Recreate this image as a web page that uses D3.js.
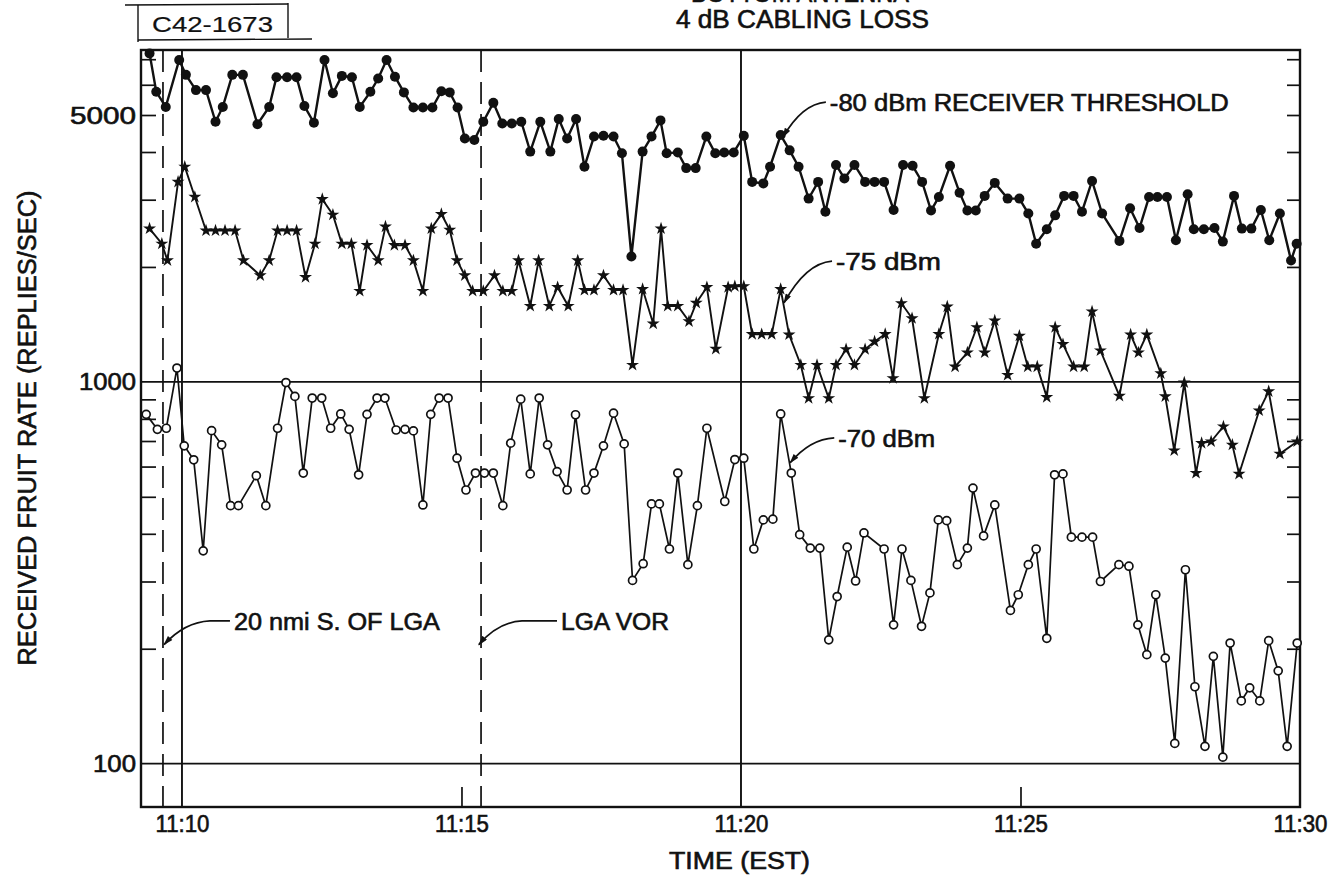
<!DOCTYPE html>
<html>
<head>
<meta charset="utf-8">
<script src="https://cdn.jsdelivr.net/npm/d3@7"></script>
<style>
  body { margin: 0; background: #fff; }
  text { font-family: "Liberation Sans", Arial, sans-serif; fill: #111; stroke: #111; stroke-width: 0.6px; }
</style>
</head>
<body>
<div id="chart"></div>
<script>
// time in minutes after 11:00, rate in replies/sec
var time80 = [9.42, 9.54, 9.71, 9.95, 10.07, 10.25, 10.43, 10.60, 10.73, 10.90,
  11.09, 11.35, 11.56, 11.69, 11.88, 12.05, 12.19, 12.36, 12.55, 12.70,
  12.86, 13.04, 13.18, 13.37, 13.51, 13.66, 13.81, 13.97, 14.14, 14.31,
  14.48, 14.64, 14.79, 14.93, 15.06, 15.23, 15.39, 15.57, 15.73, 15.90,
  16.07, 16.23, 16.41, 16.59, 16.74, 16.89, 17.05, 17.20, 17.37, 17.54,
  17.72, 17.87, 18.04, 18.24, 18.40, 18.56, 18.67, 18.87, 19.02, 19.19,
  19.38, 19.54, 19.70, 19.87, 20.05, 20.20, 20.40, 20.52, 20.71, 20.87,
  21.03, 21.21, 21.38, 21.51, 21.70, 21.85, 22.03, 22.22, 22.39, 22.56,
  22.73, 22.90, 23.07, 23.24, 23.40, 23.54, 23.74, 23.91, 24.05, 24.20,
  24.36, 24.54, 24.77, 24.98, 25.14, 25.28, 25.47, 25.62, 25.78, 25.95,
  26.10, 26.28, 26.46, 26.77, 26.96, 27.13, 27.30, 27.45, 27.62, 27.78,
  27.99, 28.10, 28.28, 28.47, 28.62, 28.82, 28.96, 29.13, 29.30, 29.45,
  29.64, 29.84, 29.94];
var rate80 = [7250, 5750, 5250, 6970, 6370, 5810, 5810, 4800, 5250, 6370,
  6370, 4730, 5250, 6280, 6280, 6280, 5280, 4770, 6970, 5700,
  6330, 6280, 5250, 5750, 6230, 6970, 6300, 5730, 5230, 5230,
  5230, 5770, 5730, 5230, 4340, 4300, 4800, 5380, 4750, 4750,
  4800, 4010, 4800, 4010, 4880, 4340, 4880, 3660, 4390, 4410,
  4390, 3970, 2130, 4010, 4390, 4840, 3970, 3990, 3630, 3630,
  4390, 3970, 3990, 3990, 4410, 3340, 3310, 3660, 4430, 4040,
  3660, 3020, 3340, 2790, 3700, 3410, 3700, 3340, 3340, 3340,
  2820, 3700, 3680, 3340, 2810, 3050, 3680, 3130, 2810, 2810,
  3070, 3320, 3020, 3020, 2760, 2300, 2510, 2730, 3070, 3070,
  2790, 3360, 2760, 2340, 2850, 2530, 3050, 3050, 3050, 2350,
  3100, 2510, 2510, 2530, 2330, 3070, 2520, 2520, 2820, 2350,
  2760, 2080, 2300];

var time75 = [9.42, 9.64, 9.74, 9.93, 10.05, 10.23, 10.43, 10.60, 10.77, 10.95,
  11.10, 11.40, 11.56, 11.71, 11.88, 12.05, 12.21, 12.38, 12.51, 12.70,
  12.86, 13.03, 13.18, 13.31, 13.51, 13.64, 13.80, 13.99, 14.14, 14.31,
  14.46, 14.64, 14.79, 14.92, 15.06, 15.20, 15.39, 15.59, 15.74, 15.90,
  16.02, 16.23, 16.38, 16.57, 16.72, 16.91, 17.08, 17.20, 17.37, 17.54,
  17.72, 17.89, 18.06, 18.24, 18.43, 18.57, 18.69, 18.87, 19.07, 19.20,
  19.39, 19.55, 19.77, 19.89, 20.05, 20.20, 20.37, 20.55, 20.71, 20.86,
  21.07, 21.21, 21.36, 21.57, 21.70, 21.88, 22.03, 22.22, 22.39, 22.58,
  22.72, 22.87, 23.06, 23.28, 23.54, 23.69, 23.83, 24.05, 24.22, 24.36,
  24.54, 24.77, 24.98, 25.13, 25.30, 25.47, 25.62, 25.76, 25.95, 26.14,
  26.28, 26.43, 26.77, 26.97, 27.11, 27.26, 27.51, 27.59, 27.75, 27.93,
  28.14, 28.24, 28.41, 28.63, 28.79, 28.91, 29.27, 29.44, 29.64, 29.95];
var rate75 = [2520, 2300, 2080, 3340, 3660, 3050, 2490, 2490, 2490, 2490,
  2080, 1900, 2080, 2490, 2490, 2490, 1880, 2300, 3010, 2740,
  2300, 2300, 1730, 2280, 2080, 2550, 2280, 2280, 2080, 1730,
  2520, 2750, 2500, 2080, 1900, 1730, 1730, 1900, 1730, 1730,
  2080, 1580, 2080, 1580, 1770, 1580, 2080, 1740, 1740, 1900,
  1740, 1740, 1107, 1750, 1420, 2520, 1580, 1580, 1440, 1610,
  1770, 1220, 1770, 1780, 1780, 1333, 1333, 1333, 1750, 1330,
  1107, 906, 1107, 906, 1107, 1217, 1107, 1217, 1275, 1334,
  1022, 1606, 1467, 906, 1334, 1574, 1096, 1193, 1390, 1193,
  1447, 1042, 1320, 1096, 1096, 912, 1390, 1255, 1096, 1096,
  1528, 1208, 919, 1330, 1193, 1330, 1052, 916, 661, 996,
  577, 691, 698, 764, 684, 574, 841, 944, 648, 698];

var time70 = [9.36, 9.56, 9.72, 9.91, 10.04, 10.21, 10.38, 10.53, 10.71, 10.87,
  11.01, 11.33, 11.50, 11.71, 11.86, 12.02, 12.17, 12.33, 12.50, 12.66,
  12.84, 12.99, 13.16, 13.31, 13.49, 13.63, 13.83, 13.99, 14.14, 14.31,
  14.45, 14.60, 14.76, 14.92, 15.08, 15.25, 15.41, 15.57, 15.74, 15.88,
  16.06, 16.23, 16.39, 16.54, 16.71, 16.89, 17.04, 17.22, 17.37, 17.54,
  17.72, 17.91, 18.06, 18.25, 18.40, 18.54, 18.72, 18.87, 19.05, 19.22,
  19.39, 19.71, 19.89, 20.05, 20.23, 20.40, 20.57, 20.71, 20.90, 21.05,
  21.24, 21.41, 21.57, 21.72, 21.90, 22.05, 22.20, 22.56, 22.73, 22.88,
  23.04, 23.23, 23.38, 23.53, 23.68, 23.87, 24.05, 24.15, 24.34, 24.54,
  24.82, 24.96, 25.14, 25.28, 25.47, 25.61, 25.76, 25.91, 26.10, 26.29,
  26.43, 26.76, 26.94, 27.10, 27.26, 27.42, 27.59, 27.76, 27.95, 28.12,
  28.30, 28.45, 28.62, 28.75, 28.95, 29.10, 29.28, 29.44, 29.61, 29.77,
  29.95];
var rate70 = [822, 751, 756, 1087, 680, 625, 361, 745, 684, 474,
  474, 568, 474, 756, 996, 916, 577, 907, 907, 756,
  824, 751, 571, 822, 907, 907, 748, 751, 744, 476,
  822, 907, 907, 631, 521, 577, 577, 577, 474, 691,
  901, 574, 907, 684, 582, 521, 820, 521, 577, 680,
  828, 688, 302, 334, 479, 479, 365, 577, 332, 474,
  756, 486, 626, 631, 365, 435, 437, 824, 577, 398,
  367, 367, 211, 274, 369, 301, 402, 365, 231, 365,
  302, 229, 280, 435, 433, 332, 367, 527, 395, 476,
  252, 277, 332, 365, 213, 571, 574, 392, 392, 392,
  300, 332, 329, 231, 193, 277, 189, 113, 322, 159,
  111, 191, 104, 207, 146, 158, 146, 210, 175, 111,
  207];

var xTicks = [10, 15, 20, 25, 30];
var xTickLabels = ["11:10", "11:15", "11:20", "11:25", "11:30"];
var yLabelTicks = [100, 1000, 5000];
var yMinorTicks = [200, 300, 400, 500, 600, 700, 800, 900, 2000, 3000, 4000, 5000, 6000, 7000];
var solidTimes = [10, 20];
var dashedTimes = [9.66, 15.35];
var gridRates = [100, 1000];

var W = 1336, H = 878;
var plotL = 141, plotR = 1300, plotT = 50, plotB = 807;
var ink = "#111";

var svg = d3.select("#chart").append("svg")
  .attr("width", W).attr("height", H)
  .style("background", "#fff");

var x = d3.scaleLinear().domain([9.267, 30]).range([plotL, plotR]);
var y = d3.scaleLog().domain([77, 7400]).range([plotB, plotT]);

// reference lines
svg.selectAll(".grid").data(gridRates).enter().append("line")
  .attr("x1", plotL).attr("x2", plotR)
  .attr("y1", d => y(d)).attr("y2", d => y(d))
  .attr("stroke", ink).attr("stroke-width", 1.9);

svg.selectAll(".vsolid").data(solidTimes).enter().append("line")
  .attr("x1", d => x(d)).attr("x2", d => x(d))
  .attr("y1", plotT).attr("y2", plotB)
  .attr("stroke", ink).attr("stroke-width", 1.9);

svg.selectAll(".vdash").data(dashedTimes).enter().append("line")
  .attr("x1", d => x(d)).attr("x2", d => x(d))
  .attr("y1", plotT).attr("y2", plotB)
  .attr("stroke", ink).attr("stroke-width", 1.7)
  .attr("stroke-dasharray", "22,10");

// minor log ticks, inward on both sides
var leftMinor = svg.append("g").attr("transform", "translate(" + plotL + ",0)")
  .call(d3.axisLeft(y).tickValues(yMinorTicks).tickSize(-15).tickFormat(""));
var rightMinor = svg.append("g").attr("transform", "translate(" + plotR + ",0)")
  .call(d3.axisRight(y).tickValues(yMinorTicks).tickSize(-13).tickFormat(""));
[leftMinor, rightMinor].forEach(function(g) {
  g.select(".domain").remove();
  g.selectAll("line").attr("stroke", ink).attr("stroke-width", 1.7);
});

// inward ticks at 11:15 and 11:25
var xInner = svg.append("g").attr("transform", "translate(0," + plotB + ")")
  .call(d3.axisBottom(x).tickValues([15, 25]).tickSize(-20).tickFormat(""));
xInner.select(".domain").remove();
xInner.selectAll("line").attr("stroke", ink).attr("stroke-width", 1.7);

// frame
svg.append("rect")
  .attr("x", plotL).attr("y", plotT)
  .attr("width", plotR - plotL).attr("height", plotB - plotT)
  .attr("fill", "none").attr("stroke", ink).attr("stroke-width", 2.4);

// tick labels
var yLabelWidths = {100: 43, 1000: 57, 5000: 66};
var yAx = svg.append("g").attr("transform", "translate(" + plotL + ",0)")
  .call(d3.axisLeft(y).tickValues(yLabelTicks).tickSize(0).tickPadding(5).tickFormat(d3.format("d")));
yAx.select(".domain").remove();
yAx.selectAll("text")
  .attr("font-size", 23).attr("dy", null).attr("y", 8)
  .attr("fill", ink)
  .attr("font-family", "'Liberation Sans', Arial, sans-serif")
  .attr("textLength", d => yLabelWidths[d]).attr("lengthAdjust", "spacingAndGlyphs");

var xAx = svg.append("g").attr("transform", "translate(0," + plotB + ")")
  .call(d3.axisBottom(x).tickValues(xTicks).tickSize(0).tickPadding(0)
    .tickFormat((d, i) => xTickLabels[i]));
xAx.select(".domain").remove();
xAx.selectAll("text")
  .attr("font-size", 23).attr("dy", null).attr("y", 25)
  .attr("fill", ink)
  .attr("font-family", "'Liberation Sans', Arial, sans-serif")
  .attr("textLength", 54).attr("lengthAdjust", "spacingAndGlyphs");

// series
function pairs(ts, rs) { return ts.map((t, i) => [t, rs[i]]); }
var s80 = pairs(time80, rate80), s75 = pairs(time75, rate75), s70 = pairs(time70, rate70);
var line = d3.line().x(d => x(d[0])).y(d => y(d[1]));

svg.append("path").datum(s70).attr("d", line)
  .attr("fill", "none").attr("stroke", ink).attr("stroke-width", 1.7);
svg.append("path").datum(s75).attr("d", line)
  .attr("fill", "none").attr("stroke", ink).attr("stroke-width", 1.9);
svg.append("path").datum(s80).attr("d", line)
  .attr("fill", "none").attr("stroke", ink).attr("stroke-width", 2.4);

svg.selectAll(".m80").data(s80).enter().append("circle")
  .attr("cx", d => x(d[0])).attr("cy", d => y(d[1])).attr("r", 5)
  .attr("fill", ink);

var star = d3.symbol().type(d3.symbolStar).size(52);
svg.selectAll(".m75").data(s75).enter().append("path")
  .attr("d", star)
  .attr("transform", d => "translate(" + x(d[0]) + "," + y(d[1]) + ")")
  .attr("fill", ink);

svg.selectAll(".m70").data(s70).enter().append("circle")
  .attr("cx", d => x(d[0])).attr("cy", d => y(d[1])).attr("r", 4)
  .attr("fill", "#fff").attr("stroke", ink).attr("stroke-width", 1.7);

// annotations (text anchor and arrow tip in data units)
var notes = [
  {text: "-80 dBm RECEIVER THRESHOLD", t: 21.59, v: 5120, tipT: 20.75, tipV: 4375, len: 399, flat: 0},
  {text: "-75 dBm", t: 21.70, v: 1963, tipT: 20.77, tipV: 1610, len: 105, flat: 0},
  {text: "-70 dBm", t: 21.74, v: 676, tipT: 20.88, tipV: 614, len: 97, flat: 0},
  {text: "20 nmi S. OF LGA", t: 10.93, v: 224, tipT: 9.68, tipV: 205, len: 206, flat: 20},
  {text: "LGA VOR", t: 16.78, v: 224, tipT: 15.31, tipV: 205, len: 108, flat: 35}
];

svg.append("defs").append("marker")
  .attr("id", "head").attr("viewBox", "0 0 10 6")
  .attr("refX", 9).attr("refY", 3)
  .attr("markerWidth", 12).attr("markerHeight", 6)
  .attr("markerUnits", "userSpaceOnUse")
  .attr("orient", "auto")
  .append("path").attr("d", "M0,0L10,3L0,6Z").attr("fill", ink);

notes.forEach(function(n) {
  var tx = x(n.t), ty = y(n.v);
  svg.append("text").attr("x", tx).attr("y", ty)
    .attr("font-size", 23)
    .attr("textLength", n.len).attr("lengthAdjust", "spacingAndGlyphs")
    .text(n.text);
  var sx = tx - 4, sy = ty - 9, ex = x(n.tipT), ey = y(n.tipV);
  var hx = sx - n.flat;
  var d = "M" + sx + "," + sy + "L" + hx + "," + sy +
    "Q" + (hx - (hx - ex) * 0.55) + "," + (sy + (ey - sy) * 0.05) + " " + ex + "," + ey;
  svg.append("path").attr("d", d)
    .attr("fill", "none").attr("stroke", ink).attr("stroke-width", 1.7)
    .attr("marker-end", "url(#head)");
});

// titles
svg.append("text").attr("x", 800).attr("y", 2).attr("text-anchor", "middle")
  .attr("font-size", 25).attr("textLength", 218).attr("lengthAdjust", "spacingAndGlyphs")
  .text("BOTTOM ANTENNA");
svg.append("text").attr("x", 676).attr("y", 28)
  .attr("font-size", 25).attr("textLength", 253).attr("lengthAdjust", "spacingAndGlyphs")
  .text("4 dB CABLING LOSS");

svg.append("text").attr("x", 669).attr("y", 869)
  .attr("font-size", 23).attr("textLength", 141).attr("lengthAdjust", "spacingAndGlyphs")
  .text("TIME (EST)");

svg.append("text")
  .attr("transform", "translate(36,428) rotate(-90)")
  .attr("text-anchor", "middle")
  .attr("font-size", 25).attr("textLength", 475).attr("lengthAdjust", "spacingAndGlyphs")
  .text("RECEIVED FRUIT RATE (REPLIES/SEC)");

// figure number box
var box = svg.append("g").attr("stroke", ink).attr("stroke-width", 1.4);
box.append("line").attr("x1", 125).attr("y1", 5).attr("x2", 288).attr("y2", 4);
box.append("line").attr("x1", 138).attr("y1", 5).attr("x2", 138).attr("y2", 42);
box.append("line").attr("x1", 288).attr("y1", 3).attr("x2", 288).attr("y2", 38);
box.append("line").attr("x1", 138).attr("y1", 40).attr("x2", 312).attr("y2", 39);
svg.append("text").attr("x", 152).attr("y", 32)
  .attr("font-family", "'Liberation Mono', 'DejaVu Sans Mono', monospace")
  .attr("font-size", 22).attr("textLength", 121).attr("lengthAdjust", "spacingAndGlyphs")
  .style("stroke-width", "0.2px")
  .text("C42-1673");
</script>
</body>
</html>
